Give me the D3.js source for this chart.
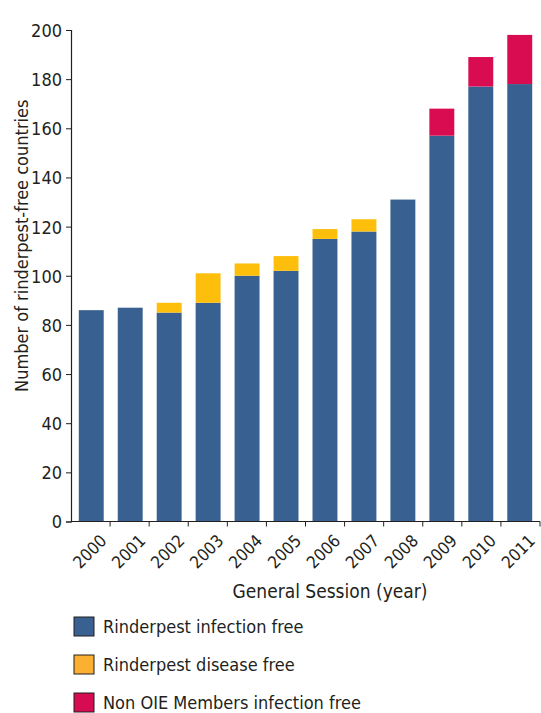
<!DOCTYPE html>
<html>
<head>
<meta charset="utf-8">
<script src="https://cdn.jsdelivr.net/npm/d3@7/dist/d3.min.js"></script>
<style>
  html, body { margin: 0; padding: 0; background: #fff; }
  svg text { font-family: "Liberation Sans Narrow", "DejaVu Sans Condensed", "Roboto Condensed", sans-serif; fill: #231f20; }
</style>
</head>
<body>
<svg id="chart" width="541" height="713"></svg>
<script>
// Rinderpest-free countries recognised at each General Session
const years = ["2000","2001","2002","2003","2004","2005","2006","2007","2008","2009","2010","2011"];
const infectionFree = [86, 87, 85, 89, 100, 102, 115, 118, 131, 157, 177, 178];
const diseaseFree   = [0, 0, 4, 12, 5, 6, 4, 5, 0, 0, 0, 0];
const nonMembers    = [0, 0, 0, 0, 0, 0, 0, 0, 0, 11, 12, 20];
const yTicks = [0, 20, 40, 60, 80, 100, 120, 140, 160, 180, 200];

const seriesNames = ["Rinderpest infection free", "Rinderpest disease free", "Non OIE Members infection free"];
const seriesColors = ["#386192", "#fdbf0c", "#d90c52"];
const legendColors = ["#386192", "#fbb031", "#d60b52"];

const rows = years.map((y, i) => ({ year: y, a: infectionFree[i], b: diseaseFree[i], c: nonMembers[i] }));
const stack = d3.stack().keys(["a", "b", "c"])(rows);

const svg = d3.select("#chart");
const margin = { left: 71, right: 540, top: 30, bottom: 521.5 };

const x = d3.scaleBand().domain(years).range([margin.left, margin.right]).paddingInner(0.36).paddingOuter(0.2);
const y = d3.scaleLinear().domain([0, 200]).range([margin.bottom, margin.top]);

// stacked bars
svg.append("g").selectAll("g").data(stack).join("g")
  .attr("fill", (d, i) => seriesColors[i])
  .selectAll("rect").data(d => d.filter(p => p[1] > p[0])).join("rect")
  .attr("x", d => x(d.data.year))
  .attr("width", x.bandwidth())
  .attr("y", d => y(d[1]))
  .attr("height", d => y(d[0]) - y(d[1]));

// y axis
const yAxis = svg.append("g")
  .attr("transform", `translate(${margin.left},0)`)
  .call(d3.axisLeft(y).tickValues(yTicks).tickSize(5).tickPadding(4));
yAxis.select(".domain").attr("stroke", "#231f20").attr("stroke-width", 1.2);
yAxis.selectAll(".tick line").attr("stroke", "#231f20");
yAxis.selectAll(".tick text").attr("font-size", 18).attr("dy", "0.36em");

// x axis with ticks on band boundaries
const xAxisG = svg.append("g").attr("transform", `translate(0,${margin.bottom})`);
xAxisG.append("line")
  .attr("x1", margin.left).attr("x2", margin.right)
  .attr("stroke", "#231f20").attr("stroke-width", 1.2);
const step = x.step();
const boundaries = years.map((yr, i) => margin.left + (i + 1) * (margin.right - margin.left) / years.length);
xAxisG.selectAll("line.tk").data(boundaries).join("line").attr("class", "tk")
  .attr("x1", d => d).attr("x2", d => d).attr("y1", 0).attr("y2", 5)
  .attr("stroke", "#231f20");
xAxisG.selectAll("text.yl").data(years).join("text").attr("class", "yl")
  .attr("font-size", 17)
  .attr("text-anchor", "end")
  .attr("transform", d => `translate(${x(d) + x.bandwidth() / 2 + 8},${12}) rotate(-45)`)
  .attr("dy", "0.7em")
  .text(d => d);

// axis titles
svg.append("text")
  .attr("transform", `translate(28,${(margin.top + margin.bottom) / 2 - 30}) rotate(-90)`)
  .attr("text-anchor", "middle")
  .attr("font-size", 18)
  .text("Number of rinderpest-free countries");

svg.append("text")
  .attr("x", 330).attr("y", 598)
  .attr("text-anchor", "middle")
  .attr("font-size", 19)
  .text("General Session (year)");

// legend
const legend = svg.append("g").attr("transform", "translate(74,617)");
const lg = legend.selectAll("g").data(seriesNames).join("g")
  .attr("transform", (d, i) => `translate(0,${i * 38})`);
lg.append("rect")
  .attr("width", 20).attr("height", 19)
  .attr("fill", (d, i) => legendColors[i])
  .attr("stroke", "#231f20").attr("stroke-width", 1);
lg.append("text")
  .attr("x", 29).attr("y", 10)
  .attr("dy", "0.36em")
  .attr("font-size", 18)
  .text(d => d);
</script>
</body>
</html>
